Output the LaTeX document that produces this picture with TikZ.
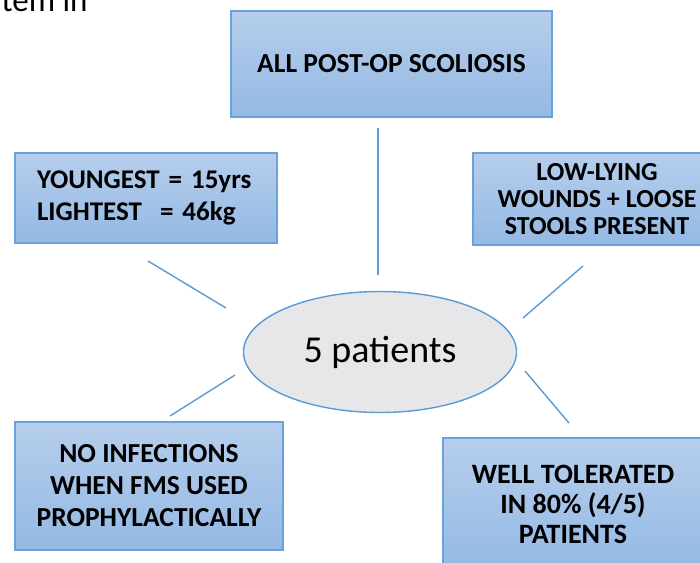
\documentclass[tikz,border=0pt]{standalone}
\usepackage{fontspec}
\setmainfont{Carlito}
\usetikzlibrary{shapes.geometric}
\definecolor{boxtop}{RGB}{182,206,236}
\definecolor{boxbot}{RGB}{148,185,228}
\definecolor{boxline}{RGB}{108,160,216}
\definecolor{linkblue}{RGB}{91,155,213}
\definecolor{ellgray}{RGB}{231,230,232}
\begin{document}
\begin{tikzpicture}[x=1pt,y=-1pt,
    box/.style={draw=boxline, line width=1.2pt, top color=boxtop, bottom color=boxbot,
      align=center, inner sep=0pt, font=\fontsize{27.5}{32}\selectfont\bfseries},
    link/.style={draw=linkblue, line width=1.4pt}]
    \useasboundingbox (0,0) rectangle (700,562);
    \clip (0,0) rectangle (700,562);

    \node[anchor=base east, font=\fontsize{33}{38}\selectfont] (cut) at (91,11) {tem in};

    \node[box, minimum width=321, minimum height=106] (post) at (391.5,64) {ALL POST-OP SCOLIOSIS};
    \node[box, align=left, text width=218, inner xsep=22, minimum height=90,
        font=\fontsize{27}{32}\selectfont\bfseries] (yng) at (146,198)
        {\mbox{YOUNGEST = 15yrs}\\\mbox{LIGHTEST \ = 46kg}};
    \node[box, minimum width=248, minimum height=92, font=\fontsize{26}{27}\selectfont\bfseries] (low) at (597,199)
        {LOW-LYING\\WOUNDS + LOOSE\\STOOLS PRESENT};
    \node[box, minimum width=268, minimum height=128] (nof) at (149,486)
        {NO INFECTIONS\\WHEN FMS USED\\PROPHYLACTICALLY};
    \node[box, minimum width=260, minimum height=132, font=\fontsize{28}{30}\selectfont\bfseries] (well) at (573,504)
        {WELL TOLERATED\\IN 80\% (4/5)\\PATIENTS};

    \node[ellipse, draw=linkblue, line width=1.4pt, fill=ellgray, minimum width=273, minimum height=121,
        font=\fontsize{38}{44}\selectfont] (pat) at (380,352) {5 patients};

    \coordinate (post-a) at (378,128);  \coordinate (post-b) at (378,275);
    \coordinate (yng-a) at (148,261);   \coordinate (yng-b) at (226,308);
    \coordinate (low-a) at (583,266);   \coordinate (low-b) at (523,318);
    \coordinate (nof-a) at (170,416);   \coordinate (nof-b) at (235,375);
    \coordinate (well-a) at (569,423);  \coordinate (well-b) at (525,371);

    \draw[link] (post-a) -- (post-b);
    \draw[link] (yng-a) -- (yng-b);
    \draw[link] (low-a) -- (low-b);
    \draw[link] (nof-a) -- (nof-b);
    \draw[link] (well-a) -- (well-b);
\end{tikzpicture}
\end{document}
